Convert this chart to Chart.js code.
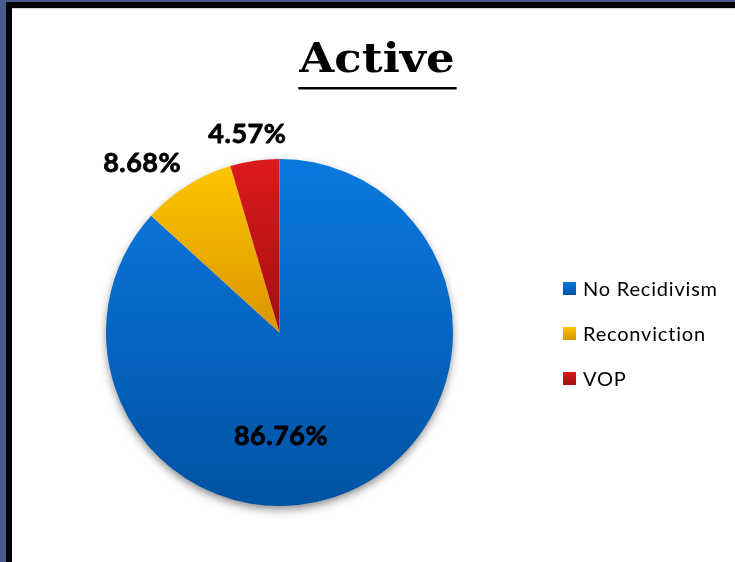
<!DOCTYPE html>
<html>
<head>
<meta charset="utf-8">
<script src="https://cdn.jsdelivr.net/npm/chart.js@4/dist/chart.umd.min.js"></script>
<style>
  html, body { margin: 0; padding: 0; background: #ffffff; }
  canvas { display: block; }
</style>
</head>
<body>
<canvas id="chart" width="735" height="562"></canvas>
<script>
// Outcome shares for the "Active" group (percent)
const chartTitle = 'Active';
const categories = ['No Recidivism', 'Reconviction', 'VOP'];
const shares = [86.76, 8.68, 4.57];

// Fill gradients per slice, top to bottom
const sliceTop = ['#0a79df', '#ffc500', '#dc1b1b'];
const sliceBottom = ['#0052a3', '#d99500', '#a50c0f'];

// Where each percentage label sits: turn (degrees) from the slice middle, and distance as a share of the radius
const labelShift = [23, -7, -1];
const labelReach = [0.6, 1.256, 1.156];

// vertical extent of one slice, used to span its gradient
function sliceSpan(arc) {
  const { y, startAngle, endAngle, outerRadius } = arc;
  let lo = y, hi = y;
  for (let i = 0; i <= 64; i++) {
    const a = startAngle + (endAngle - startAngle) * i / 64;
    const py = y + Math.sin(a) * outerRadius;
    lo = Math.min(lo, py);
    hi = Math.max(hi, py);
  }
  return [lo, hi];
}

function fillFor(ctx, i, lo, hi) {
  const g = ctx.createLinearGradient(0, lo, 0, hi);
  g.addColorStop(0, sliceTop[i]);
  g.addColorStop(1, sliceBottom[i]);
  return g;
}

const slideDressing = {
  id: 'slideDressing',
  beforeDraw(chart) {
    // slide frame: blue band, black rule, white page
    const { ctx, width, height } = chart;
    ctx.save();
    ctx.fillStyle = '#475b8e';
    ctx.fillRect(0, 0, width, height);
    ctx.fillStyle = '#000000';
    ctx.fillRect(6, 2, width - 6, height - 2);
    ctx.fillStyle = '#ffffff';
    ctx.fillRect(12, 8, width - 12, height - 8);
    ctx.fillStyle = '#d4d4d4';
    ctx.fillRect(12, 8, width - 12, 1);
    ctx.restore();
  },
  beforeDatasetsDraw(chart) {
    const ctx = chart.ctx;
    const meta = chart.getDatasetMeta(0);
    const { x, y, outerRadius } = meta.data[0];

    // soft drop shadow under the whole pie
    ctx.save();
    ctx.shadowColor = 'rgba(0, 0, 0, 0.5)';
    ctx.shadowBlur = 10;
    ctx.shadowOffsetY = 4;
    ctx.fillStyle = '#ffffff';
    ctx.beginPath();
    ctx.arc(x, y, outerRadius - 1, 0, Math.PI * 2);
    ctx.fill();
    ctx.restore();

    meta.data.forEach((arc, i) => {
      const [lo, hi] = sliceSpan(arc);
      arc.options.backgroundColor = fillFor(ctx, i, lo, hi);
    });
  },
  afterDatasetsDraw(chart) {
    const ctx = chart.ctx;
    const meta = chart.getDatasetMeta(0);
    ctx.save();
    ctx.fillStyle = '#000000';
    ctx.strokeStyle = '#000000';
    ctx.lineWidth = 0.8;
    ctx.lineJoin = 'round';
    ctx.font = 'bold 27px Lato';
    ctx.letterSpacing = '0.5px';
    ctx.textAlign = 'center';
    ctx.textBaseline = 'middle';
    meta.data.forEach((arc, i) => {
      const mid = (arc.startAngle + arc.endAngle) / 2 + labelShift[i] * Math.PI / 180;
      const r = arc.outerRadius * labelReach[i];
      const text = shares[i].toFixed(2) + '%';
      const lx = arc.x + Math.cos(mid) * r;
      const ly = arc.y + Math.sin(mid) * r;
      ctx.fillText(text, lx, ly);
      ctx.strokeText(text, lx, ly);
    });
    ctx.restore();
  },
  afterDraw(chart) {
    const ctx = chart.ctx;
    ctx.save();

    // underlined title, widened a little to the slide's serif face
    ctx.fillStyle = '#000000';
    ctx.font = 'bold 41px "DejaVu Serif"';
    ctx.textAlign = 'center';
    ctx.textBaseline = 'alphabetic';
    const tx = 377, ty = 72, stretch = 1.1;
    const tw = ctx.measureText(chartTitle).width * stretch;
    ctx.save();
    ctx.translate(tx, ty);
    ctx.scale(stretch, 1);
    ctx.fillText(chartTitle, 0, 0);
    ctx.restore();
    ctx.fillRect(tx - tw / 2 - 1, 87, tw + 3, 2.5);

    // legend
    ctx.font = '20px Lato';
    ctx.letterSpacing = '0.8px';
    ctx.textAlign = 'left';
    ctx.textBaseline = 'middle';
    categories.forEach((name, i) => {
      const cy = 288.5 + i * 45;
      ctx.fillStyle = fillFor(ctx, i, cy - 6.5, cy + 6.5);
      ctx.fillRect(563, cy - 6.5, 13, 13);
      ctx.fillStyle = '#000000';
      ctx.fillText(name, 583, cy + 1);
    });
    ctx.restore();
  }
};

new Chart(document.getElementById('chart'), {
  type: 'pie',
  data: {
    labels: categories,
    datasets: [{
      data: shares,
      backgroundColor: sliceTop,
      borderWidth: 0
    }]
  },
  options: {
    responsive: false,
    animation: false,
    layout: { padding: { left: 106, right: 282, top: 159, bottom: 56 } },
    plugins: {
      legend: { display: false },
      tooltip: { enabled: false },
      title: { display: false }
    }
  },
  plugins: [slideDressing]
});
</script>
</body>
</html>
